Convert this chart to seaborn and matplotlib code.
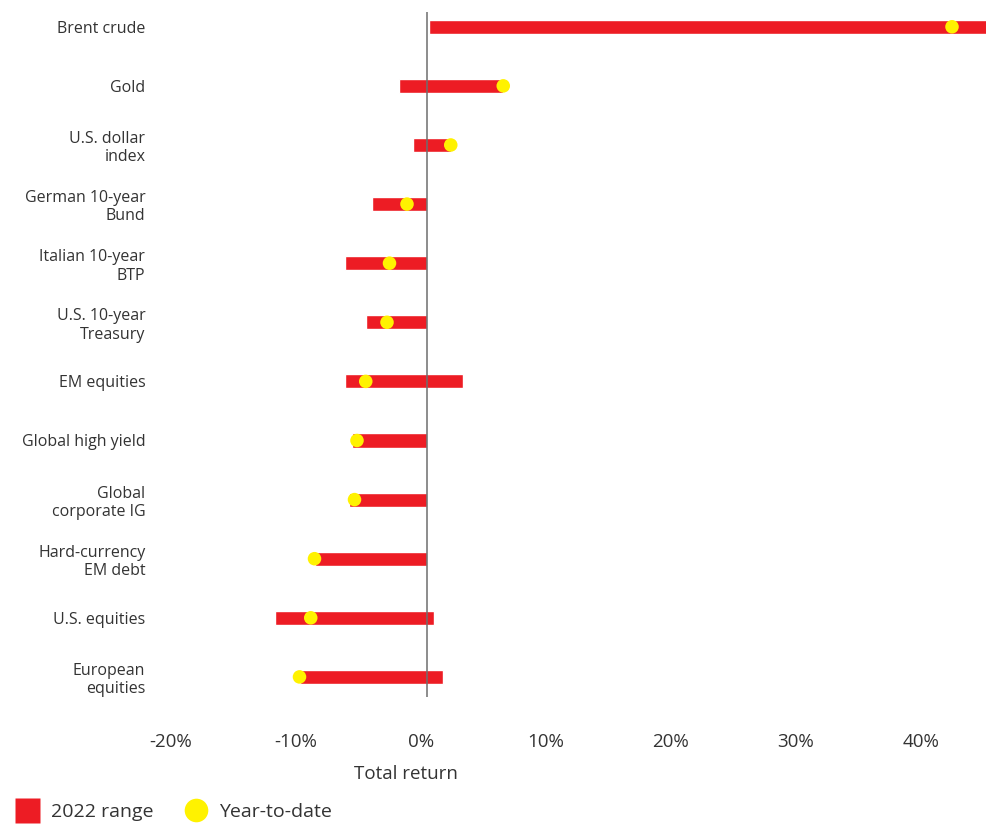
import matplotlib
matplotlib.use("Agg")
import matplotlib.pyplot as plt
import matplotlib.transforms as mtransforms
from matplotlib.lines import Line2D
import seaborn as sns
import pandas as pd

categories = ["Brent crude", "Gold", "U.S. dollar\nindex", "German 10-year\nBund",
              "Italian 10-year\nBTP", "U.S. 10-year\nTreasury", "EM equities",
              "Global high yield", "Global\ncorporate IG", "Hard-currency\nEM debt",
              "U.S. equities", "European\nequities"]
range_low = [0.2, -2.2, -1.1, -4.4, -6.6, -4.9, -6.6, -6.0, -6.2, -9.0, -12.2, -10.2]
range_high = [45.5, 6.1, 1.9, 0.0, 0.0, 0.0, 2.9, 0.0, 0.0, 0.0, 0.6, 1.3]
ytd = [42.0, 6.1, 1.9, -1.6, -3.0, -3.2, -4.9, -5.6, -5.8, -9.0, -9.3, -10.2]
xticks = [-20, -10, 0, 10, 20, 30, 40]
xticklabels = ["-20%", "-10%", "0%", "10%", "20%", "30%", "40%"]

RED = "#ED1C24"
YELLOW = "#FFF200"
TEXT = "#333333"

df = pd.DataFrame({"category": categories, "low": range_low, "high": range_high, "ytd": ytd})
df["pos"] = range(len(df))

sns.set_theme(style="white")
plt.rcParams["font.family"] = ["Open Sans", "DejaVu Sans"]

fig = plt.figure(figsize=(9.87, 8.24), dpi=100)
ax = fig.add_axes([155 / 987, 1 - 697 / 824, 1 - 155 / 987, (697 - 12) / 824])

ax.barh(df["pos"], df["high"] - df["low"], left=df["low"], height=0.24, color=RED, zorder=2)
ax.axvline(0, color="#6e6e6e", lw=1.1, zorder=3)
sns.scatterplot(data=df, x="ytd", y="pos", ax=ax, s=95, color=YELLOW, edgecolor="none",
                zorder=4, legend=False)

ax.set_xlim(-21.76, 44.8)
ax.set_ylim(11.34, -0.25)
ax.set_yticks(df["pos"])
ax.set_yticklabels(categories, fontsize=11.5, color=TEXT, ha="right", linespacing=1.2)
ax.set_xticks(xticks)
ax.set_xticklabels(xticklabels, fontsize=13.5, color=TEXT)
ax.tick_params(axis="x", length=0, pad=26)
ax.tick_params(axis="y", length=0, pad=7)
offset = mtransforms.ScaledTranslation(-6 / 100, 0, fig.dpi_scale_trans)
for lab in ax.get_xticklabels():
    lab.set_transform(lab.get_transform() + offset)
for s in ax.spines.values():
    s.set_visible(False)
ax.set_xlabel("")
ax.set_ylabel("")
ax.grid(False)

fig.text(406 / 987, 1 - 774 / 824, "Total return", ha="center", va="center",
         fontsize=13.5, color=TEXT)

handles = [Line2D([], [], marker="s", color="none", markerfacecolor=RED, markeredgecolor="none", markersize=18),
           Line2D([], [], marker="o", color="none", markerfacecolor=YELLOW, markeredgecolor="none", markersize=17)]
fig.legend(handles, ["2022 range", "Year-to-date"], loc="center left",
           bbox_to_anchor=(0.002, 1 - 812 / 824), ncol=2, frameon=False,
           fontsize=14, labelcolor=TEXT, handlelength=1.2, handletextpad=0.6,
           columnspacing=1.6, borderaxespad=0.3)

fig.savefig("out.png", dpi=100)
